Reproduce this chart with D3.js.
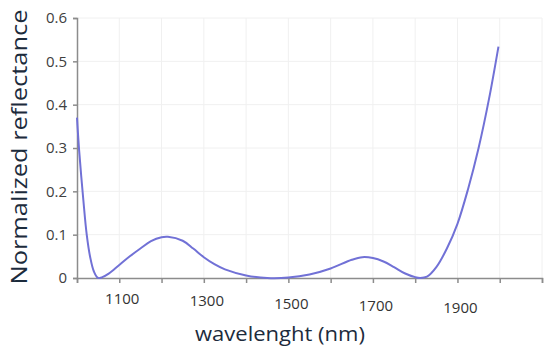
<!DOCTYPE html>
<html>
<head>
<meta charset="utf-8">
<script src="https://cdn.jsdelivr.net/npm/d3@7"></script>
<style>
  body { margin: 0; background: #fff; }
  svg { display: block; }
  text { font-family: "Open Sans", "DejaVu Sans", sans-serif; }
</style>
</head>
<body>
<svg id="chart" width="544" height="347"></svg>
<script>
// wavelength (nm) and normalized reflectance
const wavelength = [1000, 1005, 1015, 1023, 1031, 1040, 1050, 1060, 1075, 1100, 1125, 1150, 1175, 1200, 1215,
    1250, 1275, 1300, 1325, 1350, 1400, 1450, 1500, 1550, 1600, 1650, 1675, 1700, 1725, 1750, 1775, 1800,
    1812, 1828, 1850, 1875, 1900, 1925, 1950, 1975, 1997];
const reflectance = [0.37, 0.295, 0.18, 0.10, 0.049, 0.015, 0.0, 0.002, 0.01, 0.03, 0.05, 0.068, 0.085, 0.094, 0.095,
    0.086, 0.068, 0.048, 0.032, 0.02, 0.006, 0.0, 0.001, 0.008, 0.022, 0.042, 0.048, 0.046, 0.038, 0.025, 0.011, 0.002,
    0.0, 0.003, 0.025, 0.068, 0.125, 0.205, 0.30, 0.415, 0.534];
const xTicks = [1000, 1100, 1200, 1300, 1400, 1500, 1600, 1700, 1800, 1900, 2000, 2100];
const xLabels = [1100, 1300, 1500, 1700, 1900];
const yTicks = [0, 0.1, 0.2, 0.3, 0.4, 0.5, 0.6];

const svg = d3.select('#chart');
const x = d3.scaleLinear().domain([1000, 2100]).range([77, 542]);
const y = d3.scaleLinear().domain([0, 0.6]).range([278, 18]);

//grid
svg.append('g')
    .selectAll('line.v')
    .data(xTicks.slice(1))
    .join('line')
    .attr('x1', d => x(d)).attr('x2', d => x(d))
    .attr('y1', y(0.6)).attr('y2', y(0))
    .attr('stroke', '#f0f0f0');
svg.append('g')
    .selectAll('line.h')
    .data(yTicks.slice(1))
    .join('line')
    .attr('x1', x(1000)).attr('x2', x(2100))
    .attr('y1', d => y(d)).attr('y2', d => y(d))
    .attr('stroke', '#f0f0f0');

//axes
const xAxis = svg.append('g')
    .attr('transform', `translate(0,${y(0)})`)
    .call(d3.axisBottom(x).tickValues(xTicks).tickSize(5).tickFormat(''));
const yAxis = svg.append('g')
    .attr('transform', `translate(${x(1000)},0)`)
    .call(d3.axisLeft(y).tickValues(yTicks).tickSize(4).tickFormat(d => d === 0 ? '0' : d3.format('.1f')(d)));
[xAxis, yAxis].forEach(a => {
    a.select('.domain').attr('stroke', '#8c8c8c').attr('stroke-width', 1.5);
    a.selectAll('.tick line').attr('stroke', '#8c8c8c').attr('stroke-width', 1.5);
});
yAxis.selectAll('.tick text')
    .attr('x', -10)
    .attr('font-size', 15)
    .attr('fill', '#404040')
    .style('font-family', '"Open Sans", sans-serif');

//x labels, drifting down slightly like the picture
svg.append('g')
    .selectAll('text')
    .data(xLabels)
    .join('text')
    .attr('x', d => x(d) + 3)
    .attr('y', d => 304 + (x(d) - x(1100)) * 0.027)
    .attr('text-anchor', 'middle')
    .attr('font-size', 15)
    .attr('fill', '#333')
    .text(d => d);

//curve
const line = d3.line()
    .x(d => x(d[0]))
    .y(d => Math.min(y(d[1]), y(0)))
    .curve(d3.curveCatmullRom.alpha(0.5));
svg.append('path')
    .datum(d3.zip(wavelength, reflectance))
    .attr('d', line)
    .attr('fill', 'none')
    .attr('stroke', '#7171d6')
    .attr('stroke-width', 2);

//titles
svg.append('text')
    .attr('transform', 'translate(27,147) rotate(-90)')
    .attr('text-anchor', 'middle')
    .attr('font-size', 22)
    .attr('textLength', 275)
    .attr('lengthAdjust', 'spacingAndGlyphs')
    .attr('fill', '#1c2b3c')
    .text('Normalized reflectance');
svg.append('text')
    .attr('x', 280)
    .attr('y', 341)
    .attr('text-anchor', 'middle')
    .attr('font-size', 20)
    .attr('textLength', 170)
    .attr('lengthAdjust', 'spacingAndGlyphs')
    .attr('fill', '#1c2b3c')
    .text('wavelenght (nm)');
</script>
</body>
</html>
